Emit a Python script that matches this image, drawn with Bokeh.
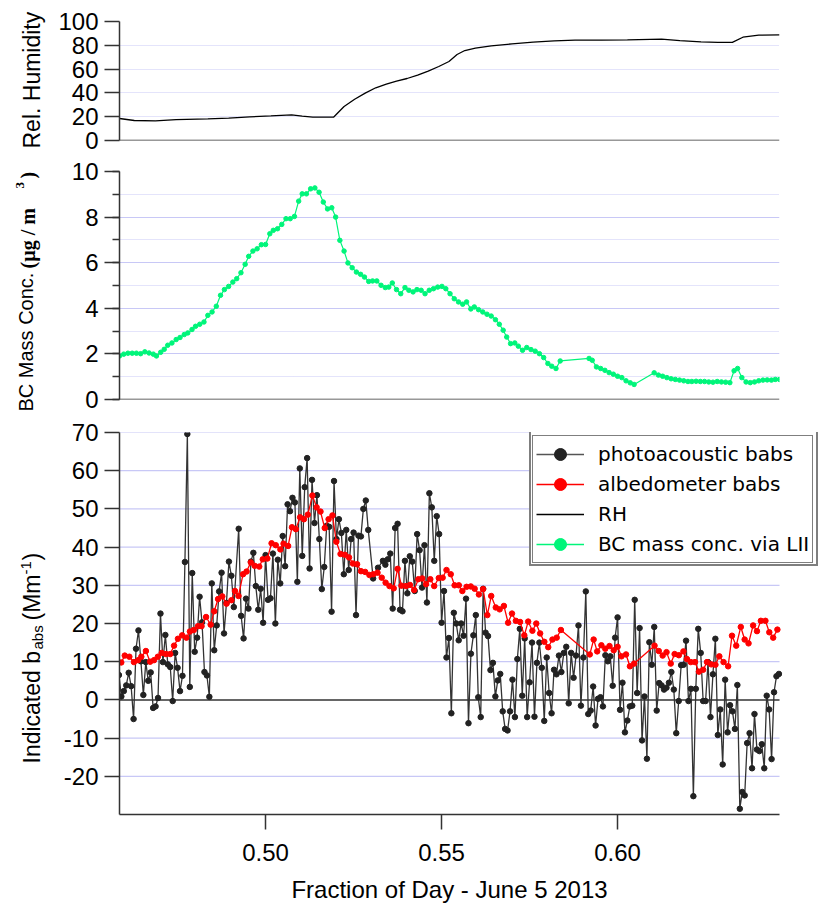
import math
import numpy as np
from bokeh.plotting import figure
from bokeh.models import (Range1d, SingleIntervalTicker, FixedTicker, NumeralTickFormatter,
                          Span, Legend, LegendItem, Label)
from bokeh.layouts import column, row
from bokeh.embed import file_html
from bokeh.resources import INLINE

# ---------------- data ----------------
# Relative humidity (%) vs fraction of day
rh_time = [0.4585, 0.4627, 0.4687, 0.4746, 0.4836, 0.4895, 0.4955, 0.5015, 0.5074, 0.5104, 0.5134,
           0.5193, 0.5223, 0.5253, 0.5283, 0.5313, 0.5343, 0.5372, 0.5402, 0.5432, 0.5462, 0.5492,
           0.5521, 0.5544, 0.5566, 0.5596, 0.5641, 0.5700, 0.5760, 0.5820, 0.5879, 0.5954, 0.6028,
           0.6125, 0.6177, 0.6237, 0.6285, 0.6326, 0.6356, 0.6401, 0.6460]
rh_value = [18.5, 16.8, 16.5, 17.6, 18.2, 18.8, 19.9, 20.7, 21.6, 20.4, 19.6,
            19.6, 28.6, 34.7, 39.8, 44.3, 47.3, 49.9, 52.1, 54.9, 58.3, 62.2,
            66.4, 72.3, 75.6, 77.6, 79.6, 81.2, 82.6, 83.8, 84.3, 84.3, 84.6,
            85.2, 84.0, 82.9, 82.4, 82.4, 86.8, 88.5, 88.8]

# BC mass concentration via LII (ug/m3)
bc_time = [0.4585, 0.4597, 0.4609, 0.4621, 0.4633, 0.4645, 0.4657, 0.4669, 0.4681, 0.4690, 0.4702,
           0.4712, 0.4722, 0.4734, 0.4746, 0.4757, 0.4769, 0.4779, 0.4791, 0.4801, 0.4813, 0.4825,
           0.4836, 0.4848, 0.4860, 0.4872, 0.4883, 0.4895, 0.4907, 0.4918, 0.4930, 0.4942, 0.4952,
           0.4964, 0.4976, 0.4988, 0.5000, 0.5012, 0.5022, 0.5034, 0.5046, 0.5058, 0.5070, 0.5082,
           0.5094, 0.5104, 0.5116, 0.5128, 0.5140, 0.5152, 0.5164, 0.5176, 0.5188, 0.5199, 0.5211,
           0.5223, 0.5234, 0.5246, 0.5258, 0.5270, 0.5281, 0.5293, 0.5304, 0.5316, 0.5328, 0.5340,
           0.5350, 0.5360, 0.5372, 0.5384, 0.5396, 0.5407, 0.5419, 0.5430, 0.5442, 0.5453, 0.5465,
           0.5477, 0.5489, 0.5501, 0.5512, 0.5524, 0.5536, 0.5548, 0.5560, 0.5571, 0.5583, 0.5593,
           0.5605, 0.5617, 0.5629, 0.5641, 0.5653, 0.5664, 0.5675, 0.5685, 0.5696, 0.5708, 0.5718,
           0.5730, 0.5742, 0.5754, 0.5766, 0.5778, 0.5790, 0.5802, 0.5813, 0.5825, 0.5837, 0.5919,
           0.5928, 0.5940, 0.5952, 0.5964, 0.5976, 0.5988, 0.6000, 0.6012, 0.6024, 0.6036, 0.6047,
           0.6104, 0.6116, 0.6128, 0.6140, 0.6152, 0.6164, 0.6176, 0.6188, 0.6200, 0.6211, 0.6223,
           0.6235, 0.6247, 0.6259, 0.6271, 0.6283, 0.6295, 0.6307, 0.6319, 0.6331, 0.6341, 0.6353,
           0.6365, 0.6377, 0.6389, 0.6401, 0.6413, 0.6425, 0.6437, 0.6448, 0.6460]
bc_value = [1.91, 1.99, 2.03, 2.03, 2.03, 2.01, 2.09, 2.04, 1.99, 1.91, 2.07,
            2.20, 2.38, 2.48, 2.63, 2.72, 2.85, 2.92, 3.07, 3.21, 3.30, 3.40,
            3.69, 3.84, 4.09, 4.57, 4.82, 4.96, 5.15, 5.30, 5.56, 5.93, 6.28,
            6.51, 6.61, 6.79, 6.80, 7.27, 7.42, 7.49, 7.68, 7.93, 7.93, 8.03,
            8.70, 9.02, 9.02, 9.24, 9.28, 9.09, 8.66, 8.36, 8.41, 8.00, 6.98,
            6.51, 5.99, 5.78, 5.59, 5.49, 5.37, 5.18, 5.20, 5.20, 5.01, 4.91,
            4.93, 5.11, 4.82, 4.64, 4.91, 4.79, 4.72, 4.82, 4.79, 4.64, 4.79,
            4.86, 4.93, 4.96, 4.86, 4.64, 4.42, 4.28, 4.18, 4.28, 3.97, 4.06,
            3.94, 3.84, 3.74, 3.66, 3.50, 3.30, 3.04, 2.74, 2.45, 2.48, 2.34,
            2.16, 2.28, 2.19, 2.12, 2.01, 1.84, 1.58, 1.46, 1.36, 1.69, 1.80,
            1.72, 1.43, 1.36, 1.28, 1.18, 1.11, 1.02, 0.96, 0.82, 0.73, 0.66,
            1.17, 1.07, 1.02, 0.96, 0.91, 0.88, 0.85, 0.82, 0.79, 0.79, 0.80,
            0.79, 0.79, 0.77, 0.76, 0.79, 0.77, 0.76, 0.74, 1.26, 1.36, 0.96,
            0.77, 0.74, 0.77, 0.82, 0.85, 0.86, 0.85, 0.88, 0.88]

# Albedometer babs (Mm-1)
alb_time = [0.4590, 0.4600, 0.4613, 0.4626, 0.4638, 0.4647, 0.4660, 0.4672, 0.4683, 0.4694,
            0.4705, 0.4717, 0.4729, 0.4740, 0.4751, 0.4763, 0.4775, 0.4785, 0.4796, 0.4808,
            0.4818, 0.4831, 0.4844, 0.4854, 0.4865, 0.4877, 0.4889, 0.4903, 0.4913, 0.4923,
            0.4936, 0.4946, 0.4958, 0.4969, 0.4982, 0.4992, 0.5005, 0.5017, 0.5029, 0.5042,
            0.5051, 0.5064, 0.5075, 0.5086, 0.5098, 0.5109, 0.5120, 0.5133, 0.5145, 0.5156,
            0.5168, 0.5179, 0.5190, 0.5201, 0.5213, 0.5225, 0.5237, 0.5248, 0.5260, 0.5271,
            0.5283, 0.5295, 0.5306, 0.5318, 0.5330, 0.5341, 0.5352, 0.5364, 0.5375, 0.5386,
            0.5399, 0.5410, 0.5422, 0.5434, 0.5445, 0.5456, 0.5468, 0.5479, 0.5492, 0.5503,
            0.5514, 0.5526, 0.5537, 0.5549,
            0.5559, 0.5571, 0.5583, 0.5594, 0.5606, 0.5618, 0.5630, 0.5641, 0.5654, 0.5665,
            0.5677, 0.5689, 0.5700, 0.5711, 0.5723, 0.5735, 0.5746, 0.5758, 0.5769, 0.5780,
            0.5792, 0.5803, 0.5815, 0.5827, 0.5839,
            0.5921, 0.5932, 0.5942, 0.5954, 0.5965, 0.5977, 0.5989, 0.6000, 0.6011, 0.6024,
            0.6035, 0.6047,
            0.6105, 0.6117, 0.6128, 0.6139, 0.6151, 0.6162, 0.6174, 0.6187, 0.6197, 0.6208,
            0.6220, 0.6231, 0.6243, 0.6254, 0.6266, 0.6278, 0.6289, 0.6301, 0.6314, 0.6325,
            0.6337, 0.6350, 0.6361, 0.6372, 0.6385, 0.6396, 0.6407, 0.6420, 0.6431, 0.6442,
            0.6454]
alb_babs = [9.8, 11.6, 11.3, 9.9, 10.4, 11.3, 12.8, 10.0, 10.4, 11.3,
            12.3, 12.0, 12.0, 14.2, 16.0, 16.9, 16.3, 17.9, 18.3, 19.3,
            19.3, 21.7, 19.7, 23.2, 26.4, 27.1, 25.2, 26.1, 28.5, 27.2,
            32.9, 33.6, 36.0, 35.1, 34.9, 36.8, 37.0, 41.0, 40.5, 39.4,
            40.9, 40.3, 45.2, 44.7, 47.8, 47.3, 48.5, 53.5, 50.4, 49.3,
            45.0, 47.3, 48.3, 41.4, 38.2, 38.0, 37.3, 35.7, 35.5, 33.7,
            33.5, 32.7, 32.9, 33.3, 32.0, 30.7, 29.8, 29.2, 34.3, 29.9,
            29.8, 30.1, 28.8, 31.6, 31.8, 30.3, 31.6, 29.8, 31.9, 32.0,
            34.0, 32.9, 30.0, 30.0,
            28.5, 29.6, 29.7, 29.1, 27.6, 29.0, 22.2, 27.2, 24.2, 23.7,
            24.6, 20.2, 22.6, 20.7, 20.4, 16.9, 20.5, 18.1, 20.0, 17.4,
            15.2, 13.8, 15.8, 16.3, 18.3,
            11.9, 15.8, 12.7, 14.3, 13.4, 14.1, 13.0, 13.9, 11.4, 11.9,
            8.8, 9.5,
            14.2, 12.8, 11.6, 12.5, 9.5, 12.0, 11.7, 12.7, 10.7, 9.9,
            9.9, 7.4, 7.9, 9.9, 9.3, 9.2, 11.4, 9.9, 8.8, 16.8,
            14.2, 19.1, 15.8, 14.8, 19.5, 18.0, 20.7, 20.7, 17.7, 16.3,
            18.4]

# Photoacoustic babs (Mm-1), one reading per minute after 11:00
pa_minute = [0, 1, 2, 3, 4, 5, 6, 7, 8, 9, 10, 11, 12, 13, 14, 15, 16, 17, 18, 19,
             20, 21, 22, 23, 24, 25, 26, 27, 28, 29, 30, 31, 32, 33, 34, 35, 36, 37, 38, 39,
             40, 41, 42, 43, 44, 45, 46, 47, 49, 50, 51, 52, 53, 54, 55, 56, 57, 58, 59,
             60, 61, 62, 63, 64, 65, 66, 67, 68, 69, 70, 71, 72, 73, 74, 75, 76, 77, 78, 79,
             80, 81, 82, 83, 84, 85, 86, 87, 88, 89, 90, 91, 92, 93, 94, 95, 96, 97, 98, 99,
             100, 101, 102, 104, 106, 108, 109, 110, 111, 112, 113, 114, 115, 116, 117, 118, 119,
             120, 121, 122, 123, 124, 125, 126, 127, 128, 129, 130, 131, 132, 133, 134, 135, 136, 137, 138, 139,
             140, 141, 142, 143, 144, 145, 146, 147, 148, 149, 150, 151, 152, 153, 154, 155, 156, 157, 158, 159,
             160, 161, 162, 163, 164, 165, 166, 167, 168, 169, 170, 171, 172, 173, 174, 175, 176, 177, 178, 179,
             180, 181, 182, 183, 184, 185, 186, 187, 188, 189, 190, 191, 192, 193, 194, 195, 196, 197, 198, 199,
             200, 201, 202, 203, 204, 205, 206, 207, 208, 209, 210, 211, 212, 213, 214, 215, 216, 217, 218, 219,
             220, 221, 222, 223, 224, 225, 226, 227, 228, 229, 230, 231, 232, 233, 234, 235, 236, 237, 238, 239,
             240, 241, 242, 243, 244, 245, 246, 247, 248, 249, 250, 251, 252, 253, 254, 255, 256, 257, 258, 259,
             260, 261, 262, 263, 264, 265, 266, 267, 268, 269, 270]
pa_babs = [6.5, 0.9, 2.3, 3.8, 7.1, 3.6, -5.0, 13.4, 18.2, 10.1, 1.3, 9.9, 5.0, 7.2, -2.1, -1.7, 0.5, 22.6, 9.9, 17.0,
           9.3, 8.6, -0.3, 12.3, 8.4, 2.3, 6.3, 36.1, 69.6, 3.4, 33.2, 12.6, 16.3, 27.0, 20.3, 7.3, 6.4, 0.8, 30.5, 13.0,
           19.5, 28.4, 33.3, 17.4, 25.4, 36.2, 32.5, 24.3, 44.8, 22.0, 16.1, 26.5, 23.9, 36.2, 38.5, 29.8, 23.6, 29.1, 20.2,
           37.9, 26.2, 26.6, 38.3, 20.0, 36.7, 30.5, 42.9, 35.0, 51.2, 49.4, 52.9, 51.7, 30.9, 60.6, 37.7, 55.7, 63.3, 34.4, 57.6,
           46.3, 53.6, 42.1, 29.0, 34.8, 45.6, 45.3, 23.1, 57.3, 42.1, 47.3, 43.7, 32.9, 44.5, 34.0, 42.1, 43.8, 22.2, 43.0, 42.8,
           50.0, 52.2, 44.5, 31.8, 34.6, 36.4, 35.4, 36.8, 38.3, 23.9, 45.0, 46.1, 23.6, 23.2, 36.4, 27.9, 37.6,
           36.2, 28.5, 43.4, 39.2, 29.4, 40.5, 25.5, 54.1, 50.4, 36.4, 48.1, 43.4, 20.2, 28.5, 11.1, 16.2, -3.5, 22.8, 20.0, 15.6,
           20.0, 16.8, 26.5, -6.1, 12.1, 16.9, 22.2, 0.7, -4.5, 29.1, 17.6, 16.7, 7.8, 9.7, 0.9, 5.1, 6.8, -3.0, -7.6, -8.0,
           -3.0, 5.3, -4.5, 10.7, 18.6, 1.1, 16.1, -4.5, 4.6, 15.0, -4.4, 9.7, 15.0, 8.4, -5.5, 11.1, 1.8, -3.5, 7.9, 6.7,
           11.6, 7.3, 12.3, 13.9, -0.9, 12.3, 5.8, 11.6, 19.5, -1.5, 11.1, 28.4, -3.7, -2.8, 3.5, -6.7, 0.3, 0.7, -1.7, 11.7,
           10.1, 11.4, 3.7, 16.3, 21.6, -2.6, 4.5, -8.5, -5.4, -1.7, -1.5, 26.2, 1.8, 18.8, -10.6, 0.9, -15.4, 15.1, 9.2, 19.1,
           -2.8, 4.4, 3.8, 2.7, 3.2, 4.5, 7.3, 2.7, -8.7, -0.3, 9.1, 9.2, 15.5, -0.3, 2.9, -25.2, 2.9, 18.6, 12.3, -0.3,
           -0.3, 9.9, -4.5, 6.7, 16.0, -9.2, -2.5, -16.9, 5.3, -8.5, -1.4, -3.0, -7.6, 3.9, -28.5, -24.1, -25.0, -11.3, -8.7, -17.9,
           -3.7, -13.0, -13.4, -11.6, -17.9, 1.1, -2.5, -15.5, 2.0, 6.2, 6.8]
pa_time = [(660 + m) / 1440.0 for m in pa_minute]   # minutes after 11:00 -> fraction of day

x_ticks = [0.50, 0.55, 0.60]
babs_ticks = [-20, -10, 0, 10, 20, 30, 40, 50, 60, 70]
legend_labels = ["photoacoustic babs", "albedometer babs", "RH", "BC mass conc. via LII"]

# ---------------- style ----------------
TW = 52                 # width of the strip holding the rotated y titles
PW = 819 - TW
LEFT = 119 - TW
NUM_FONT = "Liberation Sans"
TITLE_FONT = "Liberation Sans"
GRID = "#c8c8f6"
AXIS = "#333333"
GREEN = "#00f57a"
RED = "#ff0000"
DARK = "#222222"
X0, X1 = 0.4585, 0.6460            # time span shown in every panel
X1_WIDE = 0.65736                  # bottom panel frame runs on under the legend

xr = Range1d(X0, X1)
xr3 = Range1d(X0, X1_WIDE)


def base_fig(h, xrange, yr, top, bottom, right, xaxis=False):
    p = figure(width=PW, height=h, x_range=xrange, y_range=yr, output_backend="svg",
               toolbar_location=None, min_border_left=LEFT, min_border_right=right,
               min_border_top=top, min_border_bottom=bottom,
               x_axis_location="below" if xaxis else None)
    p.frame_align = False
    p.outline_line_color = None
    p.background_fill_color = "white"
    p.border_fill_color = "white"
    p.xgrid.grid_line_color = None
    p.ygrid.grid_line_color = GRID
    ya = p.yaxis[0]
    ya.axis_line_color = AXIS
    ya.axis_line_width = 1.5
    ya.major_tick_line_color = AXIS
    ya.major_tick_line_width = 1.5
    ya.major_tick_out = 15
    ya.major_tick_in = 0
    ya.minor_tick_line_color = None
    ya.major_label_standoff = 6
    ya.major_label_text_font = NUM_FONT
    ya.major_label_text_font_size = "24px"
    ya.major_label_text_color = "black"
    return p


# ---- panel 1: RH ----
p1 = base_fig(155, xr, Range1d(0, 100), 21, 15, 40)
p1.yaxis[0].ticker = SingleIntervalTicker(interval=20, num_minor_ticks=0)
p1.ygrid.grid_line_dash = "1 1"
p1.line(rh_time, rh_value, line_color="black", line_width=1.3)
p1.add_layout(Span(location=0, dimension="width", line_color=AXIS, line_width=1.5))

# ---- panel 2: BC ----
p2 = base_fig(260, xr, Range1d(0, 10), 16, 16, 40)
p2.yaxis[0].ticker = SingleIntervalTicker(interval=2, num_minor_ticks=2)
p2.yaxis[0].minor_tick_line_color = AXIS
p2.yaxis[0].minor_tick_line_width = 1.5
p2.yaxis[0].minor_tick_out = 7
p2.yaxis[0].minor_tick_in = 0
p2.ygrid.minor_grid_line_color = GRID
p2.ygrid.minor_grid_line_dash = "1 1"
p2.line(bc_time, bc_value, line_color=GREEN, line_width=1.2)
p2.scatter(bc_time, bc_value, size=4.5, color=GREEN, marker="circle")
p2.add_layout(Span(location=0, dimension="width", line_color=AXIS, line_width=1.5))

# ---- panel 3: babs ----
p3 = base_fig(459, xr3, Range1d(-30, 70), 17, 60, 0, xaxis=True)
p3.yaxis[0].ticker = FixedTicker(ticks=babs_ticks)
p3.yaxis[0].major_label_overrides = {t: "%d" % t for t in babs_ticks}
p3.ygrid.grid_line_color = None
grid_vals = [t for t in babs_ticks if t != 0]
p3.segment(x0=[X0] * len(grid_vals), x1=[X1] * len(grid_vals), y0=grid_vals, y1=grid_vals,
           line_color=GRID, line_width=1.2)
p3.segment(x0=[X0], x1=[X1], y0=[0], y1=[0], line_color=AXIS, line_width=1.5)
xa = p3.xaxis[0]
xa.ticker = FixedTicker(ticks=x_ticks)
xa.formatter = NumeralTickFormatter(format="0.00")
xa.bounds = (X0, X1)
xa.axis_line_color = AXIS
xa.axis_line_width = 1.5
xa.major_tick_line_color = AXIS
xa.major_tick_line_width = 1.5
xa.major_tick_out = 15
xa.major_tick_in = 0
xa.minor_tick_line_color = None
xa.major_label_standoff = 14
xa.major_label_text_font = NUM_FONT
xa.major_label_text_font_size = "24px"
xa.major_label_text_color = "black"

pa_line = p3.line(pa_time, pa_babs, line_color="#333333", line_width=1.3)
pa_dots = p3.scatter(pa_time, pa_babs, size=5.5, color=DARK, marker="circle")
alb_line = p3.line(alb_time, alb_babs, line_color=RED, line_width=1.3)
alb_dots = p3.scatter(alb_time, alb_babs, size=5.5, color=RED, marker="circle")

# legend-only proxies (a single NaN point, so nothing shows in the plot area)
nan = np.array([np.nan])
lg_pa_l = p3.line(nan, nan, line_color="#555555", line_width=1.5)
lg_pa_d = p3.scatter(nan, nan, color=DARK, marker="circle")
lg_al_l = p3.line(nan, nan, line_color=RED, line_width=1.5)
lg_al_d = p3.scatter(nan, nan, color=RED, marker="circle")
lg_rh = p3.line(nan, nan, line_color="black", line_width=1.3)
lg_bc_l = p3.line(nan, nan, line_color=GREEN, line_width=1.5)
lg_bc_d = p3.scatter(nan, nan, color=GREEN, marker="circle")

LEG = dict(spacing=0, glyph_width=48, glyph_height=30, label_height=30, label_standoff=14,
           label_text_font="DejaVu Sans", label_text_font_size="20px",
           background_fill_color="white", background_fill_alpha=1.0, border_line_color="black")
ghosts = []
for lab in legend_labels:
    g = p3.line(nan, nan, line_alpha=0)
    ghosts.append(LegendItem(label=lab, renderers=[g]))
legB = Legend(items=ghosts, location=(410, 248), padding=6, label_text_alpha=0,
              border_line_width=2.5, **LEG)
legA = Legend(items=[LegendItem(label=legend_labels[0], renderers=[lg_pa_l, lg_pa_d]),
                     LegendItem(label=legend_labels[1], renderers=[lg_al_l, lg_al_d]),
                     LegendItem(label=legend_labels[2], renderers=[lg_rh]),
                     LegendItem(label=legend_labels[3], renderers=[lg_bc_l, lg_bc_d])],
              location=(413, 251), padding=3, label_text_color="black",
              border_line_width=1, **LEG)
p3.add_layout(legB)
p3.add_layout(legA)

# ---- strip with the rotated y-axis titles (canvas x, canvas y counted from bottom) ----
tf = figure(width=TW, height=904, x_range=Range1d(0, TW), y_range=Range1d(0, 904),
            output_backend="svg", toolbar_location=None, min_border=0,
            x_axis_location=None, y_axis_location=None)
tf.frame_align = False
tf.outline_line_color = None
tf.grid.grid_line_color = None


def ytitle(text, x, y, size, font=TITLE_FONT, style="normal"):
    tf.add_layout(Label(x=x, y=y, text=text, angle=math.pi / 2, text_align="left",
                        text_baseline="middle", text_font=font, text_font_size=size,
                        text_font_style=style, text_color="black"))


ytitle("Rel. Humidity", 31, 756, "23px")
ytitle("BC Mass Conc.", 25, 493, "20px")
ytitle("(\u00b5g / m", 27, 636, "20px", font="Liberation Serif", style="bold")
ytitle("3", 19, 716, "13px", font="Liberation Serif", style="bold")
ytitle(")", 27, 726, "20px", font="Liberation Serif", style="bold")
ytitle("Indicated b", 31, 141, "23px")
ytitle("abs", 37, 255, "15px")
ytitle("(Mm", 31, 284, "23px")
ytitle("-1", 25, 330, "15px")
ytitle(")", 31, 344, "23px")

# ---- strip with the x-axis title ----
xf = figure(width=PW, height=30, x_range=Range1d(0, PW), y_range=Range1d(0, 30),
            output_backend="svg", toolbar_location=None, min_border=0,
            x_axis_location=None, y_axis_location=None)
xf.frame_align = False
xf.outline_line_color = None
xf.grid.grid_line_color = None
xf.add_layout(Label(x=(119 + 779) / 2 - TW, y=15, text="Fraction of Day - June 5 2013",
                    text_align="center", text_baseline="middle", text_font=NUM_FONT,
                    text_font_size="24px", text_color="black"))

layout = row(tf, column(p1, p2, p3, xf, spacing=0), spacing=0)
open("out.html", "w").write(file_html(layout, INLINE))
